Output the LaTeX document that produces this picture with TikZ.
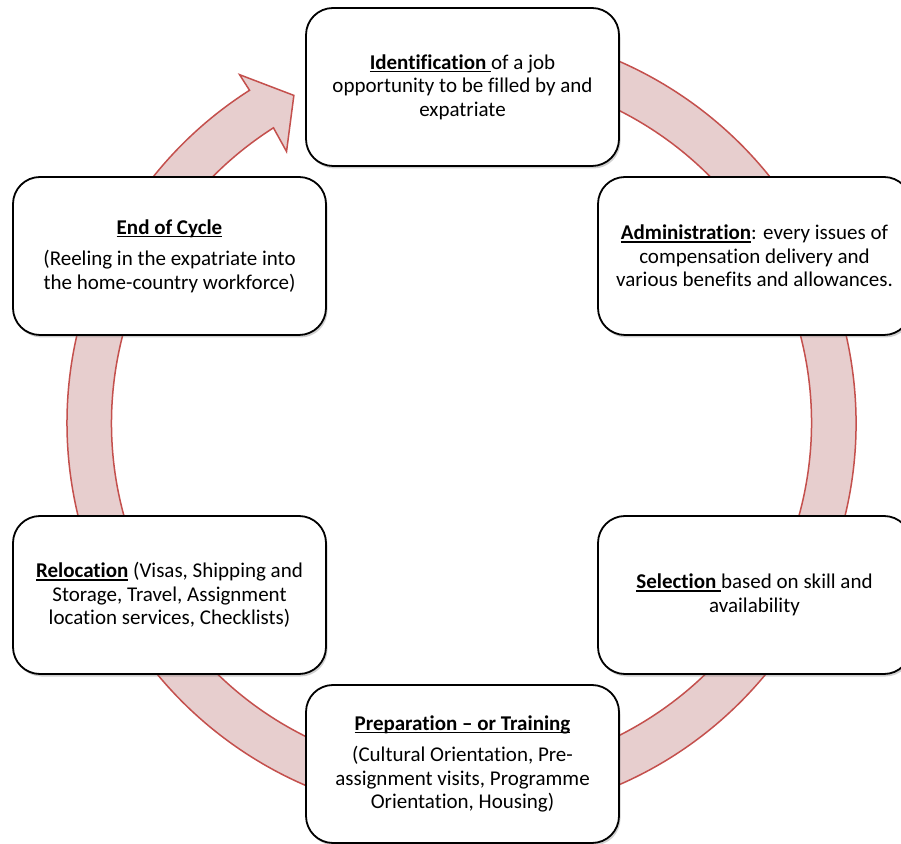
\documentclass[tikz,border=0pt]{standalone}
\usepackage{fontspec}
\setmainfont{Carlito}[Ligatures=NoCommon]
\usetikzlibrary{shadows}
\definecolor{ringfill}{RGB}{231,206,206}
\definecolor{ringline}{RGB}{196,80,77}
\newsavebox\ulbox
\newcommand\myul[1]{\sbox\ulbox{#1}\rlap{\rule[-2.8pt]{\wd\ulbox}{1.4pt}}\usebox\ulbox}
\tikzset{
  stagebox/.style={draw=black, line width=1.8pt, fill=white, rounded corners=27pt,
    minimum width=313pt, minimum height=158pt, inner sep=0pt, align=center,
    font=\fontsize{21}{23.5}\selectfont,
    drop shadow={shadow xshift=1.5pt, shadow yshift=-2.5pt, opacity=0.3, fill=black!60}},
  ringstyle/.style={fill=ringfill, draw=ringline, line width=1.5pt, line join=miter}
}
\begin{document}
\begin{tikzpicture}[x=1pt,y=1pt]
\useasboundingbox (0,0) rectangle (901,843);
\fill[white] (0,0) rectangle (901,843);
% ring arrow
\begin{scope}[shift={(461.5,420)}]
\draw[ringstyle] (100:394.5) arc[start angle=100, end angle=-237.5, radius=394.5]
  -- (122.5:413) -- (117.1:368) -- (122.8:323) -- (122.5:350)
  arc[start angle=-237.5, end angle=100, radius=350] -- cycle;
\end{scope}
% boxes
\node[stagebox] (ident) at (462.5,756) {\myul{\textbf{Identification }}of a job\\opportunity to be filled by and\\expatriate};
\node[stagebox] (admin) at (754.5,587) {\myul{\textbf{Administration}}: every issues of\\compensation delivery and\\various benefits and allowances.};
\node[stagebox] (select) at (754.5,248) {\myul{\textbf{Selection }}based on skill and\\availability};
\node[stagebox] (prep) at (462.5,79) {\myul{\textbf{Preparation – or Training}}\\[8pt](Cultural Orientation, Pre-\\assignment visits, Programme\\Orientation, Housing)};
\node[stagebox] (reloc) at (169.5,248) {\myul{\textbf{Relocation}} (Visas, Shipping and\\Storage, Travel, Assignment\\location services, Checklists)};
\node[stagebox] (endc) at (169.5,587) {\myul{\textbf{End of Cycle}}\\[8pt](Reeling in the expatriate into\\the home-country workforce)};
\end{tikzpicture}
\end{document}
